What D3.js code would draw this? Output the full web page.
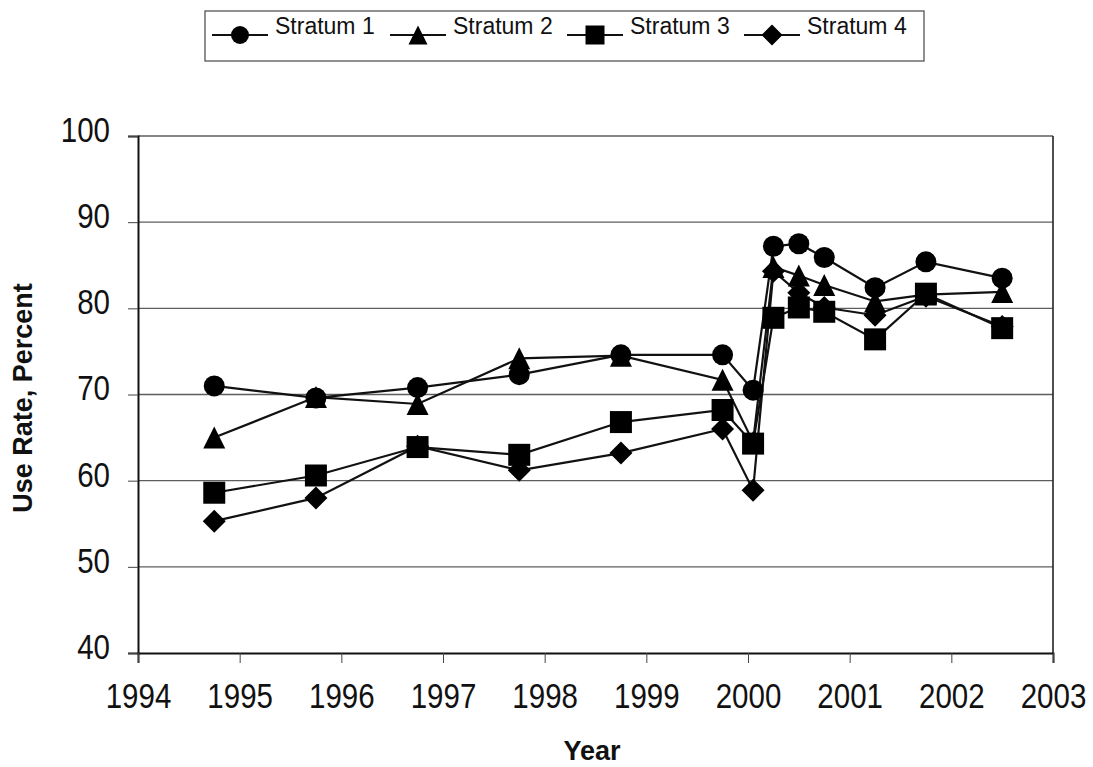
<!DOCTYPE html>
<html><head><meta charset="utf-8">
<script src="https://cdn.jsdelivr.net/npm/d3@7"></script>
<style>body{margin:0;background:#fff}svg{display:block}text{font-family:"Liberation Sans",Arial,sans-serif}</style>
</head><body><svg id="c" width="1093" height="767"></svg>
<script>
const years = [1994.75,1995.75,1996.75,1997.75,1998.75,1999.75,2000.05,2000.25,2000.5,2000.75,2001.25,2001.75,2002.5];
const stratum1 = [71.0,69.6,70.8,72.3,74.6,74.6,70.5,87.2,87.5,85.9,82.4,85.4,83.5];
const stratum2 = [65.0,69.7,68.9,74.2,74.5,71.7,64.5,84.8,83.8,82.7,80.8,81.6,81.9];
const stratum3 = [58.6,60.6,63.9,63.0,66.8,68.2,64.3,78.9,80.1,79.6,76.4,81.7,77.7];
const stratum4 = [55.3,58.0,64.0,61.2,63.2,66.0,58.9,84.3,81.8,80.1,79.2,81.4,77.9];
const seriesNames = ["Stratum 1","Stratum 2","Stratum 3","Stratum 4"];
const seriesSymbols = ["circle","triangle","square","diamond"];
const xTicks = [1994,1995,1996,1997,1998,1999,2000,2001,2002,2003];
const yTicks = [40,50,60,70,80,90,100];

const svg = d3.select("#c");
const L=138,T=136,W=915,H=517;
const x = d3.scaleLinear().domain([1994,2003]).range([L,L+W]);
const y = d3.scaleLinear().domain([40,100]).range([T+H,T]);
const NARROW = 0.82;

// grid
svg.append("g").selectAll("line").data(yTicks.filter(d=>d>40)).join("line")
  .attr("x1",L).attr("x2",L+W).attr("y1",d=>y(d)).attr("y2",d=>y(d))
  .attr("stroke","#5e5e5e").attr("stroke-width",1.3);
svg.append("line").attr("x1",L+W).attr("x2",L+W).attr("y1",T).attr("y2",T+H).attr("stroke","#222").attr("stroke-width",1.6);

const yAxis = svg.append("g").attr("transform",`translate(${L},0)`)
  .call(d3.axisLeft(y).tickValues(yTicks).tickSize(10).tickPadding(18));
const xAxis = svg.append("g").attr("transform",`translate(0,${T+H})`)
  .call(d3.axisBottom(x).tickValues(xTicks).tickFormat(d3.format("d")).tickSize(10).tickPadding(19));
[yAxis,xAxis].forEach(a=>{
  a.select(".domain").attr("stroke","#111").attr("stroke-width",2);
  a.selectAll(".tick line").attr("stroke","#444").attr("stroke-width",1);
  a.selectAll("text").attr("font-size",36).attr("fill","#111").attr("font-family","Liberation Sans, Arial")
    .attr("transform",`scale(${NARROW},1)`);
});
yAxis.selectAll("text").attr("dy","0.15em").attr("x",-28/NARROW);

svg.append("text").attr("x",592).attr("y",760).attr("text-anchor","middle")
  .attr("font-size",27).attr("font-weight","bold").attr("fill","#111").text("Year");
svg.append("text").attr("transform","translate(32,398) rotate(-90)").attr("text-anchor","middle")
  .attr("font-size",27).attr("font-weight","bold").attr("fill","#111").text("Use Rate, Percent");

// custom symbol types: size = overall width in px
const shapes = {
  circle:{draw(c,s){const r=s/2;c.moveTo(r,0);c.arc(0,0,r,0,2*Math.PI);}},
  triangle:{draw(c,s){const h=s/2;c.moveTo(0,-h);c.lineTo(h,h);c.lineTo(-h,h);c.closePath();}},
  square:{draw(c,s){const h=s/2;c.rect(-h,-h,s,s);}},
  diamond:{draw(c,s){const h=s/2;c.moveTo(0,-h);c.lineTo(h,0);c.lineTo(0,h);c.lineTo(-h,0);c.closePath();}}
};
const plotSize = {circle:21,triangle:22,square:22,diamond:23};
const legSize = {circle:18,triangle:19,square:19,diamond:21};
function sym(name,sz){ return d3.symbol().type(shapes[name]).size(sz[name])(); }

const allSeries = [stratum1,stratum2,stratum3,stratum4];
const line = d3.line().x((d,i)=>x(years[i])).y(d=>y(d));
const order = [3,2,1,0];
order.forEach(k=>{
  svg.append("path").datum(allSeries[k]).attr("d",line).attr("fill","none").attr("stroke","#111").attr("stroke-width",2.2);
});
order.forEach(k=>{
  svg.append("g").selectAll("path").data(allSeries[k]).join("path")
    .attr("transform",(d,i)=>`translate(${x(years[i])},${y(d)})`)
    .attr("d",sym(seriesSymbols[k],plotSize)).attr("fill","#000");
});

// legend
const lg = svg.append("g");
lg.append("rect").attr("x",205).attr("y",11).attr("width",719).attr("height",50)
  .attr("fill","#fff").attr("stroke","#555").attr("stroke-width",1.3);
const legMarkX = [240,418,595,772];
seriesNames.forEach((n,k)=>{
  const m = legMarkX[k];
  lg.append("line").attr("x1",m-28).attr("x2",m+28).attr("y1",35).attr("y2",35).attr("stroke","#111").attr("stroke-width",2);
  lg.append("path").attr("transform",`translate(${m},35)`).attr("d",sym(seriesSymbols[k],legSize)).attr("fill","#000");
  lg.append("text").attr("x",m+35).attr("y",34).attr("font-size",23).attr("fill","#111").text(n);
});
</script></body></html>
